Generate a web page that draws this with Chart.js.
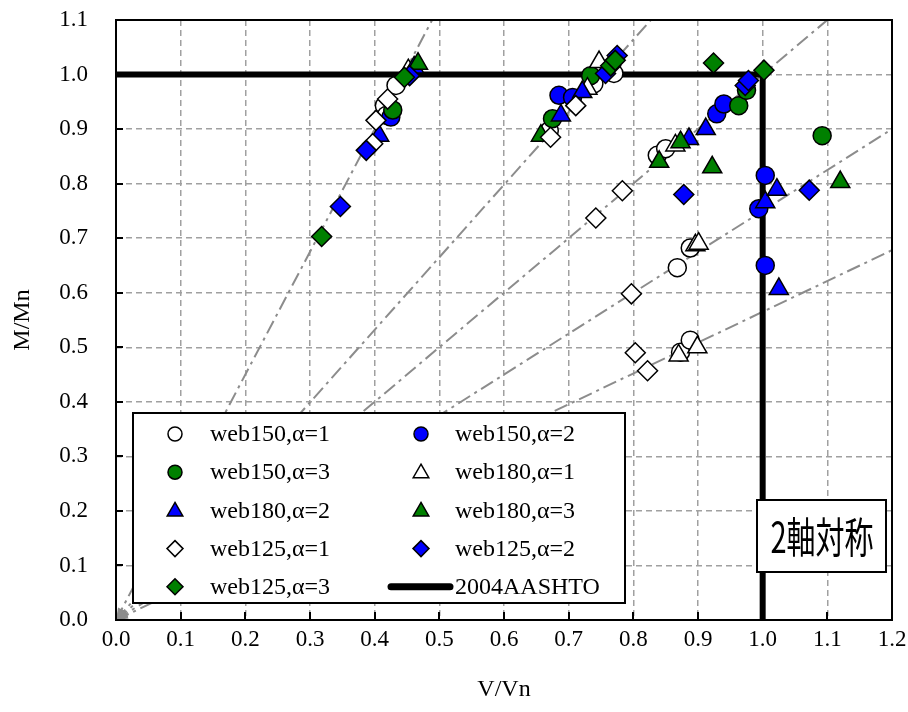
<!DOCTYPE html>
<html><head><meta charset="utf-8">
<script src="https://cdn.jsdelivr.net/npm/chart.js@4/dist/chart.umd.min.js"></script>
<style>html,body{margin:0;padding:0;background:#fff;}canvas{display:block;}</style>
</head><body>
<canvas id="c" width="908" height="712"></canvas>
<script>
// ---- tick labels ----
const xTickValues = [0,0.1,0.2,0.3,0.4,0.5,0.6,0.7,0.8,0.9,1.0,1.1,1.2];
const xTickLabels = ['0.0','0.1','0.2','0.3','0.4','0.5','0.6','0.7','0.8','0.9','1.0','1.1','1.2'];
const yTickValues = [0,0.1,0.2,0.3,0.4,0.5,0.6,0.7,0.8,0.9,1.0,1.1];
const yTickLabels = ['0.0','0.1','0.2','0.3','0.4','0.5','0.6','0.7','0.8','0.9','1.0','1.1'];

// ---- series (V/Vn, M/Mn) ----
const web150a1V = [0.415,0.418,0.433,0.670,0.739,0.770,0.837,0.850,0.868,0.888,0.873,0.888];
const web150a1M = [0.943,0.925,0.980,0.897,0.983,1.002,0.852,0.864,0.646,0.682,0.491,0.513];
const web150a2V = [0.425,0.685,0.706,0.929,0.940,1.004,0.994,1.004];
const web150a2M = [0.922,0.962,0.958,0.928,0.946,0.815,0.754,0.650];
const web150a3V = [0.428,0.675,0.734,0.963,0.975,1.092];
const web150a3M = [0.935,0.919,0.998,0.943,0.971,0.888];
const web180a1V = [0.452,0.729,0.747,0.865,0.896,0.901,0.870,0.899];
const web180a1M = [1.008,0.974,1.023,0.870,0.687,0.690,0.485,0.500];
const web180a2V = [0.407,0.461,0.688,0.721,0.886,0.912,1.004,1.022,1.025];
const web180a2M = [0.888,1.013,0.925,0.968,0.882,0.900,0.766,0.789,0.607];
const web180a3V = [0.467,0.657,0.840,0.873,0.922,1.120];
const web180a3M = [1.020,0.888,0.840,0.876,0.830,0.803];
const web125a1V = [0.397,0.402,0.420,0.672,0.711,0.742,0.783,0.797,0.803,0.822];
const web125a1M = [0.873,0.916,0.955,0.885,0.943,0.737,0.787,0.598,0.490,0.457];
const web125a2V = [0.347,0.387,0.454,0.757,0.775,0.878,0.973,0.978,1.072];
const web125a2M = [0.758,0.861,0.998,1.002,1.035,0.780,0.980,0.989,0.788];
const web125a3V = [0.318,0.446,0.765,0.772,0.924,1.002];
const web125a3M = [0.703,0.995,1.016,1.026,1.021,1.008];

const aashtoV = [0,1,1];
const aashtoM = [1,1,0];
const refSlopes = [2.25,1.33,1.0,0.75,0.565];

const seriesNames = ['web150,α=1','web150,α=2','web150,α=3','web180,α=1','web180,α=2','web180,α=3','web125,α=1','web125,α=2','web125,α=3','2004AASHTO'];
const xTitle = 'V/Vn', yTitle = 'M/Mn', boxText = '2軸対称';

const X_MAX = 1.2, Y_MAX = 1.1;
const pts = (V,M) => V.map((v,i)=>({x:v,y:M[i]}));

const WHITE='#ffffff', BLUE='#0000ff', GREEN='#008000';
const styles = [
  ['circle',WHITE,9],['circle',BLUE,9],['circle',GREEN,9],
  ['triangle',WHITE,11],['triangle',BLUE,11],['triangle',GREEN,11],
  ['rectRot',WHITE,10],['rectRot',BLUE,10],['rectRot',GREEN,10]
];
const seriesData = [
  [web150a1V,web150a1M],[web150a2V,web150a2M],[web150a3V,web150a3M],
  [web180a1V,web180a1M],[web180a2V,web180a2M],[web180a3V,web180a3M],
  [web125a1V,web125a1M],[web125a2V,web125a2M],[web125a3V,web125a3M]
];

const datasets = [];
refSlopes.forEach(s=>{
  const xe = Math.min(X_MAX, Y_MAX/s);
  datasets.push({type:'scatter', data:[{x:0,y:0},{x:xe,y:xe*s}], showLine:true,
    borderColor:'#8c8c8c', borderWidth:2, borderDash:[14,5,3,5], pointRadius:0, order:100});
});
datasets.push({type:'scatter', label:seriesNames[9], data:pts(aashtoV,aashtoM), showLine:true,
  borderColor:'#000', borderWidth:6, pointRadius:0, order:50});
seriesData.forEach((d,i)=>{
  datasets.push({type:'scatter', label:seriesNames[i], data:pts(d[0],d[1]),
    pointStyle:styles[i][0], backgroundColor:styles[i][1], borderColor:'#000', borderWidth:1.5,
    pointRadius:styles[i][2], pointHoverRadius:styles[i][2], order:20-i});
});

function drawMarker(ctx, style, x, y, r, fill){
  ctx.save();
  ctx.fillStyle = fill; ctx.strokeStyle = '#000'; ctx.lineWidth = 1.5;
  ctx.beginPath();
  if(style==='circle'){ ctx.arc(x,y,r,0,Math.PI*2); }
  else if(style==='triangle'){
    ctx.moveTo(x, y-r); ctx.lineTo(x+r*0.866, y+r*0.5); ctx.lineTo(x-r*0.866, y+r*0.5); ctx.closePath();
  } else { ctx.moveTo(x,y-r); ctx.lineTo(x+r,y); ctx.lineTo(x,y+r); ctx.lineTo(x-r,y); ctx.closePath(); }
  ctx.fill(); ctx.stroke(); ctx.restore();
}

const SERIF = '"Liberation Serif","Times New Roman",serif';

const overlay = {
  id:'overlay',
  afterDatasetsDraw(chart){
    const {ctx, chartArea:a, scales:{x,y}} = chart;
    ctx.save();
    const ox = x.getPixelForValue(0), oy = y.getPixelForValue(0);
    ctx.fillStyle = '#8c8c8c';
    refSlopes.forEach(s=>{
      const px = x.getPixelForValue(1) - ox, py = y.getPixelForValue(s) - oy;
      const L = Math.hypot(px,py), ux = px/L, uy = py/L;
      ctx.beginPath();
      ctx.moveTo(ox,oy);
      ctx.lineTo(ox+ux*12 - uy*4, oy+uy*12 + ux*4);
      ctx.lineTo(ox+ux*12 + uy*4, oy+uy*12 - ux*4);
      ctx.closePath(); ctx.fill();
    });
    ctx.strokeStyle = '#000'; ctx.lineWidth = 2;
    ctx.strokeRect(a.left, a.top, a.right-a.left, a.bottom-a.top);
    ctx.beginPath();
    yTickValues.forEach(v=>{ const p = Math.round(y.getPixelForValue(v)); ctx.moveTo(a.left,p); ctx.lineTo(a.left+7,p); });
    xTickValues.forEach(v=>{ const p = Math.round(x.getPixelForValue(v)); ctx.moveTo(p,a.bottom); ctx.lineTo(p,a.bottom-8); });
    ctx.stroke();
    ctx.fillStyle = '#000';
    ctx.font = '24px '+SERIF;
    ctx.textAlign = 'center'; ctx.textBaseline = 'middle';
    ctx.fillText(xTitle, (a.left+a.right)/2, 690);
    ctx.save(); ctx.translate(23,(a.top+a.bottom)/2); ctx.rotate(-Math.PI/2); ctx.fillText(yTitle,0,0); ctx.restore();
    // legend
    const L0 = 133, T0 = 413, R0 = 625, B0 = 603;
    ctx.fillStyle = '#fff'; ctx.fillRect(L0,T0,R0-L0,B0-T0);
    ctx.strokeStyle = '#000'; ctx.lineWidth = 2; ctx.strokeRect(L0,T0,R0-L0,B0-T0);
    const rowY = i => 434 + i*38.2;
    ctx.font = '24px '+SERIF; ctx.textAlign='left'; ctx.textBaseline='middle';
    seriesNames.forEach((name,i)=>{
      const col = i%2, row = Math.floor(i/2);
      const cy = rowY(row);
      const mx = col===0 ? 175 : 421;
      const tx = col===0 ? 210 : 455;
      if(i<9){
        const st = styles[i];
        const r = st[0]==='circle'?7:(st[0]==='triangle'?9:8);
        drawMarker(ctx, st[0], mx, cy + (st[0]==='triangle'?1:0), r, st[1]);
      } else {
        ctx.save(); ctx.strokeStyle='#000'; ctx.lineWidth=7; ctx.lineCap='round';
        ctx.beginPath(); ctx.moveTo(391,cy); ctx.lineTo(450,cy); ctx.stroke(); ctx.restore();
      }
      ctx.fillStyle='#000';
      ctx.fillText(name, tx, cy+1);
    });
    // text box
    ctx.fillStyle='#fff'; ctx.fillRect(757,500,129,72);
    ctx.strokeStyle='#000'; ctx.lineWidth=2; ctx.strokeRect(757,500,129,72);
    ctx.fillStyle='#000'; ctx.font='29px "Noto Sans CJK JP"'; ctx.textAlign='center'; ctx.textBaseline='middle';
    ctx.save(); ctx.translate(822,537); ctx.scale(1,1.45); ctx.fillText(boxText, 0, 0); ctx.restore();
    ctx.restore();
  }
};

new Chart(document.getElementById('c'), {
  type:'scatter',
  data:{datasets},
  options:{
    responsive:false, animation:false, devicePixelRatio:1,
    layout:{autoPadding:false, padding:{left:0,right:16,top:20,bottom:0}},
    plugins:{legend:{display:false}, tooltip:{enabled:false}},
    scales:{
      x:{type:'linear', min:0, max:X_MAX,
        afterBuildTicks:s=>{s.ticks = xTickValues.map(v=>({value:v}));},
        afterFit:s=>{s.height = 92; s.paddingLeft = 0; s.paddingRight = 0;},
        ticks:{callback:(v,i)=>xTickLabels[i], color:'#000', font:{family:SERIF,size:23}, padding:6, maxRotation:0, autoSkip:false},
        grid:{color:'#a0a0a0', lineWidth:1.5, drawTicks:false},
        border:{display:false, dash:[6,4]}
      },
      y:{type:'linear', min:0, max:Y_MAX,
        afterBuildTicks:s=>{s.ticks = yTickValues.map(v=>({value:v}));},
        afterFit:s=>{s.width = 116; s.paddingTop = 0; s.paddingBottom = 0;},
        ticks:{callback:(v,i)=>yTickLabels[i], color:'#000', font:{family:SERIF,size:23}, padding:28, autoSkip:false},
        grid:{color:'#a0a0a0', lineWidth:1.5, drawTicks:false},
        border:{display:false, dash:[6,4]}
      }
    }
  },
  plugins:[overlay]
});
</script>
</body></html>
